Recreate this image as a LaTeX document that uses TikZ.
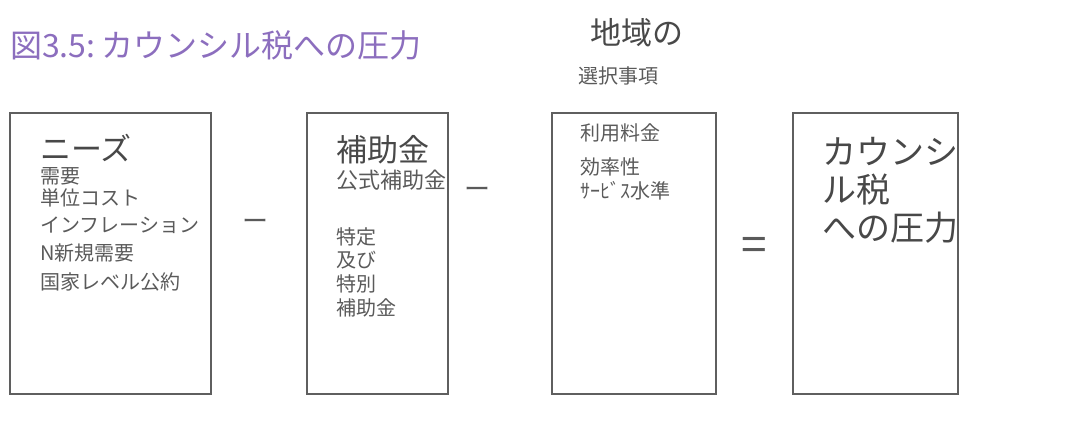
\documentclass[tikz,border=0pt]{standalone}
\usepackage{fontspec}
\newfontfamily\jp{Noto Sans CJK JP}
\definecolor{titlec}{RGB}{140,110,190}
\definecolor{txt}{RGB}{90,90,90}
\definecolor{boxc}{RGB}{95,95,95}
\begin{document}
\begin{tikzpicture}[x=1pt,y=-1pt,
  box/.style={draw=boxc,line width=2pt},
  t/.style={anchor=west,inner sep=0pt,text=txt,font=\jp\fontsize{20}{22}\selectfont},
  big/.style={anchor=west,inner sep=0pt,text=txt!80!black,font=\jp\fontsize{31}{34}\selectfont},
  op/.style={inner sep=0pt,text=txt,font=\jp\fontsize{26}{30}\selectfont}]
\useasboundingbox (0,0) rectangle (1068,447);
% title
\node[anchor=west,inner sep=0pt,text=titlec,font=\jp\fontsize{32}{34}\selectfont] (title) at (10,45) {図3.5:\hspace{6pt}カウンシル税への圧力};
\node[big] (chiiki) at (590,33) {地域の};
\node[t] (sentaku) at (578,76) {選択事項};
% boxes
\draw[box] (10,113) rectangle (211,394);
\draw[box] (307,113) rectangle (448,394);
\draw[box] (552,113) rectangle (716,394);
\draw[box] (793,113) rectangle (958,394);
% box 1
\node[big] (needs) at (40,148) {ニーズ};
\node[t] (b1a) at (40,176) {需要};
\node[t] (b1b) at (40,198) {単位コスト};
\node[t] (b1c) at (40,225) {インフレーション};
\node[t] (b1d) at (40,253) {N新規需要};
\node[t] (b1e) at (40,282) {国家レベル公約};
\node[op] (minus1) at (255,225) {ー};
% box 2
\node[big] (hojo) at (336,150) {補助金};
\node[t,font=\jp\fontsize{22}{24}\selectfont] (b2a) at (336,180) {公式補助金};
\node[t] (b2b) at (336,237) {特定};
\node[t] (b2c) at (336,260) {及び};
\node[t] (b2d) at (336,284) {特別};
\node[t] (b2e) at (336,308) {補助金};
\node[op] (minus2) at (477,193) {ー};
% box 3
\node[t] (b3a) at (580,133) {利用料金};
\node[t] (b3b) at (580,167) {効率性};
\node[t] (b3c) at (580,191) {ｻｰﾋﾞｽ水準};
\node[op,font=\jp\fontsize{46}{46}\selectfont] (eq) at (754,249) {=};
% box 4
\node[big,font=\jp\fontsize{34}{36}\selectfont] (c1) at (822,152) {カウンシ};
\node[big,font=\jp\fontsize{34}{36}\selectfont] (c2) at (822,190) {ル税};
\node[big,font=\jp\fontsize{34}{36}\selectfont] (c3) at (822,228) {への圧力};
\end{tikzpicture}
\end{document}
